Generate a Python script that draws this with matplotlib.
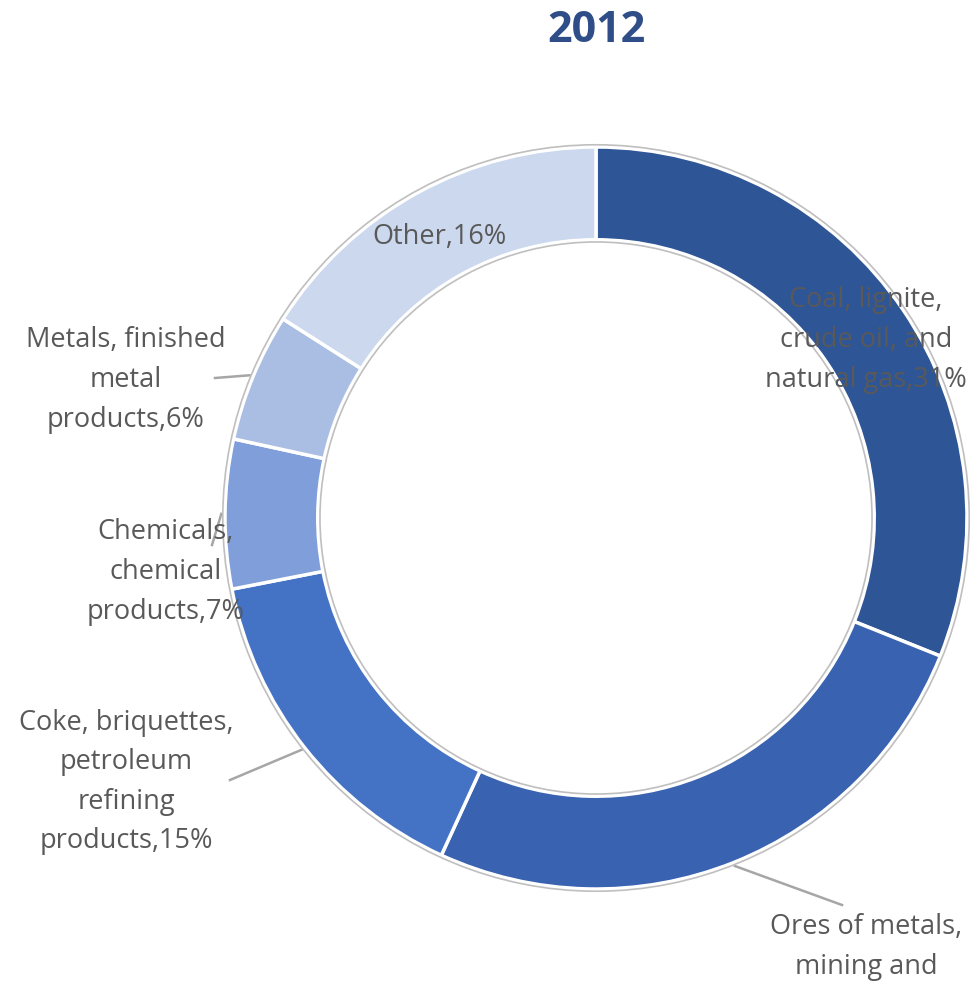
import numpy as np
import matplotlib
matplotlib.use('Agg')
import matplotlib.pyplot as plt
from matplotlib.patches import Circle

# 2012 donut data
labels = ['Coal, lignite,\ncrude oil, and\nnatural gas',
          'Ores of metals,\nmining and\nquarrying',
          'Coke, briquettes,\npetroleum\nrefining\nproducts',
          'Chemicals,\nchemical\nproducts',
          'Metals, finished\nmetal\nproducts',
          'Other']
shares = [31.1, 25.8, 15.1, 6.5, 5.6, 16.0]
pct_text = ['31%', '26%', '15%', '7%', '6%', '16%']
colors = ['#2E5596', '#3962B0', '#4472C4', '#7F9EDA', '#AABEE3', '#CBD8EE']

# label placement in pixels (layout only): centre of text, leader line end or None
label_px = [(866, 340, None),
            (866, 967, (842, 905)),
            (126, 782, (230, 780)),
            (166, 572, (212, 545)),
            (126, 380, (215, 378)),
            (440, 237, None)]

W, H = 972, 982
cx, cy, R = 596, 518, 371

plt.rcParams['font.family'] = ['Open Sans', 'DejaVu Sans']
fig = plt.figure(figsize=(W / 100, H / 100), dpi=100)
ax = fig.add_axes([0, 0, 1, 1])

wedges, _ = ax.pie(shares, colors=colors, startangle=90, counterclock=False,
                   radius=1, wedgeprops=dict(width=0.25, edgecolor='white', linewidth=2.5))

ax.add_patch(Circle((0, 0), 1.006, fill=False, edgecolor='#BFBFBF', linewidth=1.2))
ax.add_patch(Circle((0, 0), 0.744, fill=False, edgecolor='#BFBFBF', linewidth=1.2))

def to_data(px, py):
    return (px - cx) / R, (cy - py) / R

for w, lab, pct, (lx, ly, lead) in zip(wedges, labels, pct_text, label_px):
    tx, ty = to_data(lx, ly)
    ax.text(tx, ty, f'{lab},{pct}', ha='center', va='center', fontsize=19.5,
            color='#595959', linespacing=1.55)
    if lead is not None:
        mid = np.deg2rad((w.theta1 + w.theta2) / 2)
        ex, ey = np.cos(mid) * 1.01, np.sin(mid) * 1.01
        sx, sy = to_data(*lead)
        ax.plot([sx, ex], [sy, ey], color='#A6A6A6', linewidth=1.8, zorder=0)

ax.set_xlim(-cx / R, (W - cx) / R)
ax.set_ylim(-(H - cy) / R, cy / R)
ax.set_aspect('auto')
ax.axis('off')

fig.text(596 / W, 1 - 30 / H, '2012', ha='center', va='center', fontsize=31,
         fontweight='bold', color='#2F4D87')

fig.savefig('out.png', dpi=100)
